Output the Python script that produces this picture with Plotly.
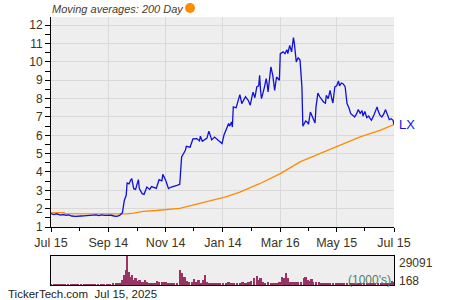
import pandas as pd
import plotly.graph_objects as go

start = pd.Timestamp("2024-07-15")

# Price (LX) — day offset from Jul 15, 2024 and closing value
price_day = [0, 3, 6, 10, 13, 16, 19, 22, 26, 29, 32, 35, 38, 41, 45, 48, 51, 54, 57, 61, 64, 67, 70, 73,
             76, 78, 80, 81, 83, 85, 86, 88, 90, 93, 94, 97, 99, 102, 105, 107, 110, 112, 115, 118, 119,
             122, 125, 128, 134, 137, 139, 143, 144, 148, 151, 155, 158, 159, 161, 166, 168, 171, 174,
             177, 182, 184, 186, 189, 190, 192, 193, 194, 197, 199, 201, 203, 205, 207, 210, 212, 214,
             215, 217, 219, 221, 222, 223, 224, 227, 229, 230, 231, 234, 236, 238, 240, 243, 244, 247,
             249, 251, 252, 254, 256, 258, 259, 261, 263, 265, 267, 268, 271, 273, 274, 276, 278, 281,
             282, 284, 286, 288, 290, 292, 293, 295, 297, 299, 300, 302, 304, 306, 307, 309, 311, 313,
             315, 317, 319, 321, 323, 325, 327, 329, 331, 332, 334, 336, 338, 339, 341, 344, 347, 348,
             350, 352, 354, 356, 358, 360, 362, 364, 365]
price_val = [1.73, 1.68, 1.72, 1.65, 1.68, 1.64, 1.66, 1.60, 1.58, 1.57, 1.60, 1.61, 1.63, 1.65, 1.64,
             1.66, 1.62, 1.66, 1.63, 1.65, 1.64, 1.60, 1.58, 1.63,
             1.78, 2.45, 2.73, 3.40, 3.35, 3.58, 3.64, 3.09, 3.05, 3.58, 3.09, 2.82, 2.78, 3.18, 3.05,
             3.20, 3.12, 3.10, 3.58, 3.52, 3.87,
             3.55, 3.10, 3.18, 3.27, 3.33, 4.82, 5.18, 5.40, 5.35, 5.80, 5.82, 5.70, 5.95, 5.68, 5.85,
             6.23, 5.75, 5.90,
             5.75, 5.55, 6.00, 6.27, 6.64, 6.50, 6.73, 6.45, 7.55, 7.50, 7.90, 8.22, 7.73, 7.95, 8.10,
             7.90, 7.64, 8.13,
             8.35, 8.05, 8.64, 8.70, 9.27, 8.45, 8.00, 8.60, 9.09, 8.80, 8.36, 9.73, 9.27, 8.45, 9.18,
             9.00, 10.45, 10.55,
             10.45, 10.67, 10.45, 10.90, 10.55, 11.33, 11.00, 10.00, 10.24, 10.10, 8.64, 6.49, 6.78,
             6.70, 6.60, 7.27, 7.00, 6.67,
             7.55, 8.30, 8.10, 7.95, 7.82, 7.75, 8.18, 8.00, 8.45, 7.95, 7.76, 8.64, 8.70, 8.96, 8.70,
             8.85, 8.80, 8.65,
             7.73, 7.50, 7.18, 7.10, 7.00, 7.15, 7.40, 7.20, 7.35, 7.05, 7.30, 6.96, 7.05, 6.96, 6.82,
             7.15, 7.55, 7.35,
             7.10, 7.00, 7.15, 7.40, 7.15, 6.85, 6.90, 6.82, 6.58]

# 200-day moving average
ma_day = [0, 14, 15, 80, 88, 98, 112, 122, 137, 155, 172, 186, 201, 222, 244, 265, 286, 307, 329, 350, 365]
ma_val = [1.78, 1.78, 1.73, 1.72, 1.76, 1.85, 1.90, 1.96, 2.02, 2.25, 2.45, 2.64, 2.90, 3.36, 3.91,
          4.55, 5.00, 5.45, 5.91, 6.27, 6.58]

# Volume (thousands)
vol_day = [0, 3, 6, 9, 12, 15, 18, 21, 24, 26, 29, 32, 35, 38, 41, 44, 47, 50, 53, 56, 60, 63, 66, 69,
           72, 74, 76, 78, 80, 81, 83, 84, 86, 88, 90, 92, 94, 96, 98, 100, 102, 104, 106, 108, 110,
           113, 115, 118, 120, 122, 125, 128, 131, 134, 137, 139, 140, 142, 144, 147, 150, 152, 154,
           157, 160, 162, 164, 166, 168, 171, 174, 177, 180, 183, 186, 189, 192, 195, 198, 201, 204,
           207, 210, 213, 216, 219, 221, 223, 225, 228, 231, 234, 237, 240, 243, 246, 248, 250, 252,
           254, 257, 260, 263, 266, 269, 271, 273, 275, 277, 279, 282, 285, 288, 291, 294, 297, 300,
           303, 306, 309, 312, 315, 318, 321, 324, 327, 330, 333, 336, 339, 342, 345, 348, 351, 354,
           357, 360, 363, 365]
vol_val = [300, 250, 300, 200, 250, 300, 250, 200, 300, 1000, 300, 250, 200, 300, 250, 300, 250, 300,
           350, 300, 1000, 400, 1700, 1600,
           1800, 1500, 5000, 10000, 15000, 29091, 13300, 8300, 10000, 5000, 6700, 4000, 4700, 2700,
           2700, 5000, 2700, 2200, 2500, 2000, 2300,
           4000, 3300, 3300, 3300, 3000, 1700, 1700, 1500, 1700, 15000, 11700, 6700, 8300, 4000, 3300,
           3300, 6000, 2700,
           5000, 2000, 5000, 10000, 2700, 1700, 1700, 1500, 1700, 1700, 2000, 1700, 3300, 2000, 2300,
           2000, 2300, 2700,
           2300, 2700, 4000, 6700, 9300, 5000, 6700, 3300, 2300, 2700, 2300, 2000, 2300, 2700, 8300,
           7300, 11700, 6700,
           3300, 3000, 3300, 2700, 3000, 7300, 8300, 5000, 4000, 6000, 3000, 2700, 2700, 2300, 2000,
           2300, 2000, 2300,
           1700, 2000, 1700, 2000, 1700, 2300, 1700, 1500, 1700, 2000, 1500, 1700, 2000, 1500, 2300,
           1700, 2000, 1500,
           2000, 1700, 4000, 3000]

x_ticks = ["2024-07-15", "2024-09-14", "2024-11-14", "2025-01-14", "2025-03-16", "2025-05-15", "2025-07-15"]
x_ticktext = ["Jul 15", "Sep 14", "Nov 14", "Jan 14", "Mar 16", "May 15", "Jul 15"]
x_minor = ["2024-08-14", "2024-10-15", "2024-12-14", "2025-02-13", "2025-04-15", "2025-06-14"]

to_dates = lambda days: [start + pd.Timedelta(days=d) for d in days]

FONT = "Liberation Sans, Arial, sans-serif"
TXT = "#3d3322"

fig = go.Figure()
fig.add_trace(go.Scatter(x=to_dates(ma_day), y=ma_val, mode="lines",
                         line=dict(color="#ff8c00", width=1.3), xaxis="x", yaxis="y", hoverinfo="skip"))
fig.add_trace(go.Scatter(x=to_dates(price_day), y=price_val, mode="lines",
                         line=dict(color="#1010dd", width=1.3), xaxis="x", yaxis="y"))
fig.add_trace(go.Bar(x=to_dates(vol_day), y=vol_val, marker=dict(color="#993366", line=dict(width=0)),
                     width=2.6 * 86400000, xaxis="x2", yaxis="y2"))

xr = [start, pd.Timestamp("2025-07-15")]
fig.update_layout(
    width=450, height=300, margin=dict(l=0, r=0, t=0, b=0, autoexpand=False),
    paper_bgcolor="white", plot_bgcolor="#eeeeee", showlegend=False, bargap=0,
    font=dict(family=FONT, size=12, color=TXT),
    xaxis=dict(domain=[51 / 450, 394 / 450], range=xr, type="date", automargin=False,
               tickvals=x_ticks, ticktext=x_ticktext, showgrid=True, gridcolor="#d9d9d9",
               showline=True, linecolor="black", linewidth=1, ticks="outside", ticklen=4,
               tickcolor="black", tickfont=dict(size=12.5, color=TXT),
               minor=dict(tickvals=x_minor, ticks="outside", ticklen=3, tickcolor="black", showgrid=False),
               zeroline=False, anchor="y", fixedrange=True),
    yaxis=dict(domain=[1 - 227 / 300, 1 - 17 / 300], range=[1, 12.45], tickvals=list(range(1, 13)),
               automargin=False,
               showgrid=True, gridcolor="#d9d9d9", showline=True, linecolor="black", linewidth=1,
               ticks="outside", ticklen=5, tickcolor="black", tickfont=dict(size=12, color=TXT),
               minor=dict(dtick=0.5, ticks="outside", ticklen=5, tickcolor="black", showgrid=False),
               zeroline=False, anchor="x", fixedrange=True),
    xaxis2=dict(domain=[51 / 450, 394 / 450], range=xr, type="date", showticklabels=False,
                automargin=False,
                showgrid=False, showline=True, mirror=True, linecolor="black", linewidth=1,
                ticks="", anchor="y2", zeroline=False),
    yaxis2=dict(domain=[1 - 285 / 300, 1 - 256 / 300], range=[0, 29091], showticklabels=False,
                automargin=False,
                showgrid=False, showline=True, mirror=True, linecolor="black", linewidth=1,
                ticks="", anchor="x2", zeroline=False),
)

ann = [
    dict(x=50 / 450, y=1 - 9 / 300, text="<i>Moving averages: 200 Day</i>", xanchor="left",
         font=dict(size=11, color="#4a3c28")),
    dict(x=397 / 450, y=1 - 124 / 300, text="LX", xanchor="left", font=dict(size=13, color="#1010dd")),
    dict(x=397 / 450, y=1 - 263 / 300, text="29091", xanchor="left", font=dict(size=12, color=TXT)),
    dict(x=397 / 450, y=1 - 281 / 300, text="168", xanchor="left", font=dict(size=12, color=TXT)),
    dict(x=393 / 450, y=1 - 280 / 300, text="(1000's)", xanchor="right",
         font=dict(size=12, color="#4f7f5f")),
    dict(x=6 / 450, y=1 - 293.5 / 300, text="TickerTech.com  Jul 15, 2025", xanchor="left",
         font=dict(size=11.5, color="#222222")),
]
for a in ann:
    a.update(xref="paper", yref="paper", yanchor="middle", showarrow=False)
    fig.add_annotation(**a)

fig.add_shape(type="circle", xref="paper", yref="paper",
              x0=185 / 450, x1=195 / 450, y0=1 - 13 / 300, y1=1 - 3 / 300,
              fillcolor="#ff8c00", line=dict(width=0))

fig.write_html("out.html")
